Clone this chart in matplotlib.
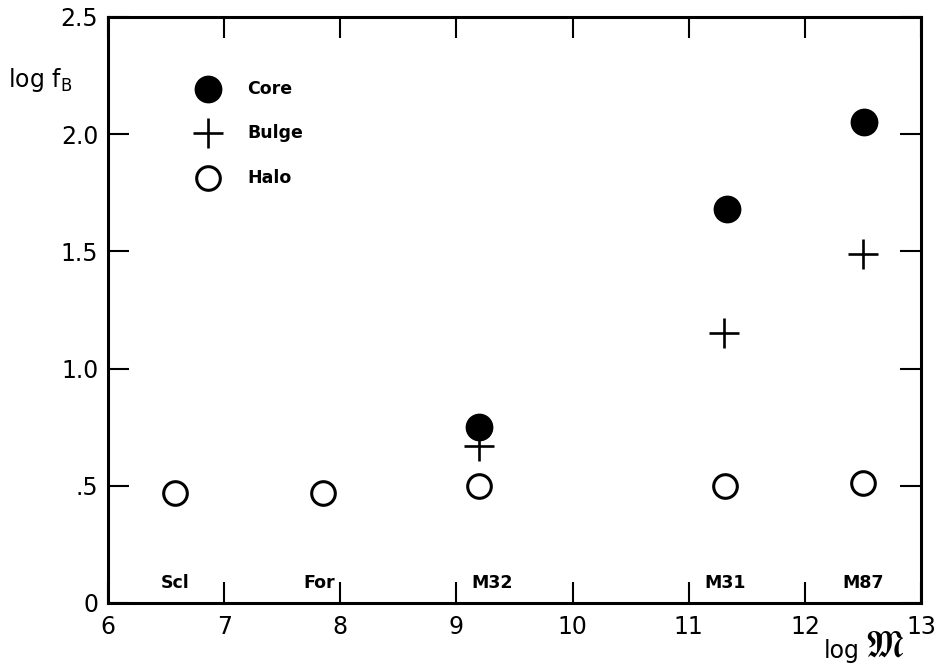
import matplotlib
matplotlib.use("Agg")
import matplotlib.pyplot as plt

# Galaxies and their log masses
galaxies = ["Scl", "For", "M32", "M31", "M87"]
log_mass = [6.58, 7.85, 9.19, 11.31, 12.50]

# log f_B for each component
halo_f = [0.47, 0.47, 0.50, 0.50, 0.51]
core_mass = [9.19, 11.33, 12.51]
core_f = [0.75, 1.68, 2.05]
bulge_mass = [9.19, 11.30, 12.50]
bulge_f = [0.67, 1.15, 1.49]

xticks = [6, 7, 8, 9, 10, 11, 12, 13]
xtick_labels = ["6", "7", "8", "9", "10", "11", "12", "13"]
yticks = [0, 0.5, 1.0, 1.5, 2.0, 2.5]
ytick_labels = ["0", ".5", "1.0", "1.5", "2.0", "2.5"]

plt.rcParams["font.family"] = ["DejaVu Sans"]

fig = plt.figure(figsize=(9.36, 6.66), dpi=100)
ax = fig.add_axes([0.1154, 0.0946, 0.8686, 0.8799])

ax.set_xlim(6, 13)
ax.set_ylim(0, 2.5)

# markers
ax.plot(core_mass, core_f, "o", color="black", ms=19, mec="black", zorder=3)
ax.plot(bulge_mass, bulge_f, "+", color="black", ms=21, mew=1.9, zorder=3)
ax.plot(log_mass, halo_f, "o", mfc="white", mec="black", ms=17, mew=2.2, zorder=3)

# galaxy names along the bottom
name_dx = [0, -3, 10, 0, 0]
for name, x, dx in zip(galaxies, log_mass, name_dx):
    ax.annotate(name, (x, 0.085), xytext=(dx, 0), textcoords="offset points",
                ha="center", va="center", fontsize=12.5, fontweight="bold")

# key
key_x, key_tx = 0.123, 0.171
ax.plot([key_x], [0.877], "o", color="black", ms=19, transform=ax.transAxes)
ax.plot([key_x], [0.802], "+", color="black", ms=21, mew=1.9, transform=ax.transAxes)
ax.plot([key_x], [0.725], "o", mfc="white", mec="black", ms=17, mew=2.2,
        transform=ax.transAxes)
for label, y in zip(["Core", "Bulge", "Halo"], [0.877, 0.802, 0.725]):
    ax.text(key_tx, y, label, transform=ax.transAxes, ha="left", va="center",
            fontsize=12.5, fontweight="bold")

# axes frame and ticks
for side in ax.spines.values():
    side.set_linewidth(2.2)
ax.set_xticks(xticks)
ax.set_xticklabels(xtick_labels)
ax.set_yticks(yticks)
ax.set_yticklabels(ytick_labels)
ax.tick_params(axis="both", direction="in", length=15, width=1.5,
               top=True, right=True, labelsize=17, pad=7)
ax.tick_params(axis="x", pad=9)

# axis titles
fig.text(0.009, 0.880, r"log f$_\mathregular{B}$", fontsize=17, ha="left", va="center")
fig.text(0.880, 0.022, "log", fontsize=17, ha="left", va="center")
fig.text(0.924, 0.030, r"$\mathfrak{M}$", fontsize=26, ha="left", va="center")

fig.savefig("out.png", dpi=100)
